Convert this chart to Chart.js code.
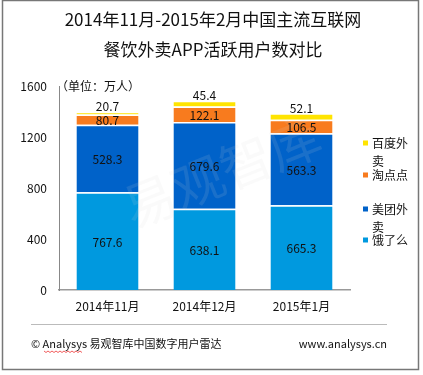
<!DOCTYPE html>
<html>
<head>
<meta charset="utf-8">
<script src="https://cdn.jsdelivr.net/npm/chart.js@4/dist/chart.umd.min.js"></script>
<style>
  html, body { margin: 0; padding: 0; background: #fff; }
  #wrap { width: 423px; height: 375px; position: relative; }
</style>
</head>
<body>
<div id="wrap"><canvas id="appChart" width="423" height="375"></canvas></div>
<script>
var FONT = '"Noto Sans CJK SC", "Noto Sans", sans-serif';

// data
var months = ['2014年11月', '2014年12月', '2015年1月'];
var seriesNames = ['饿了么', '美团外卖', '淘点点', '百度外卖'];
var eleme = [767.6, 638.1, 665.3];
var meituan = [528.3, 679.6, 563.3];
var taodiandian = [80.7, 122.1, 106.5];
var baidu = [20.7, 45.4, 52.1];
var yTicks = [0, 400, 800, 1200, 1600];
var colors = ['#0099df', '#0062c9', '#f87b1e', '#ffe400'];

var titleLines = ['2014年11月-2015年2月中国主流互联网', '餐饮外卖APP活跃用户数对比'];
var unitText = '（单位：万人）';

var frame = {
    id: 'frame',
    beforeDraw: function (chart) {
        var c = chart.ctx;
        c.save();
        c.fillStyle = '#fff';
        c.fillRect(0, 0, chart.width, chart.height);
        c.strokeStyle = '#777';
        c.lineWidth = 1.5;
        c.strokeRect(2.5, 0.5, 416, 369);
        c.fillStyle = '#111';
        c.textAlign = 'center';
        c.textBaseline = 'middle';
        c.font = '17px ' + FONT;
        c.fillText(titleLines[0], 213, 20);
        c.fillText(titleLines[1], 213, 50);
        c.font = '12px ' + FONT;
        c.textAlign = 'left';
        c.fillText(unitText, 56, 86);
        // footer
        c.strokeStyle = '#bbb';
        c.lineWidth = 1;
        c.beginPath();
        c.moveTo(31, 324.5);
        c.lineTo(387, 324.5);
        c.stroke();
        c.font = '11px ' + FONT;
        c.fillStyle = '#111';
        c.fillText('© Analysys 易观智库中国数字用户雷达', 31, 344);
        c.textAlign = 'right';
        c.fillText('www.analysys.cn', 387, 344);
        // spell-check squiggle under "Analysys"
        c.strokeStyle = '#e33';
        c.lineWidth = 0.8;
        c.beginPath();
        for (var x = 44; x <= 83; x += 2) {
            var yy = (x / 2) % 2 === 0 ? 351 : 352.5;
            if (x === 44) c.moveTo(x, yy); else c.lineTo(x, yy);
        }
        c.stroke();
        c.restore();
    },
    afterDatasetsDraw: function (chart) {
        var c = chart.ctx;
        // watermark
        c.save();
        c.translate(222, 172);
        c.rotate(-0.38);
        c.font = '52px ' + FONT;
        c.fillStyle = 'rgba(210,210,210,0.12)';
        c.textAlign = 'center';
        c.textBaseline = 'middle';
        c.fillText('易观智库', 0, 0);
        c.restore();

        // value labels
        c.save();
        c.font = '12px ' + FONT;
        c.fillStyle = '#111';
        c.textAlign = 'center';
        chart.data.datasets.forEach(function (ds, i) {
            var meta = chart.getDatasetMeta(i);
            meta.data.forEach(function (bar, j) {
                var txt = ds.data[j].toFixed(1);
                if (i === chart.data.datasets.length - 1) {
                    c.textBaseline = 'bottom';
                    c.fillText(txt, bar.x, bar.y + 1);
                } else {
                    c.textBaseline = 'middle';
                    c.fillText(txt, bar.x, (bar.y + bar.base) / 2 + 1);
                }
            });
        });
        c.restore();

        // legend on the right, wrapped to 3 characters, last series on top
        c.save();
        c.font = '12px ' + FONT;
        c.fillStyle = '#111';
        c.textAlign = 'left';
        c.textBaseline = 'middle';
        var n = chart.data.datasets.length;
        var ys = [143, 175, 209, 240];
        for (var k = 0; k < n; k++) {
            var ds = chart.data.datasets[n - 1 - k];
            var y = ys[k];
            c.fillStyle = ds.backgroundColor;
            c.fillRect(363, y - 2.5, 5, 5);
            c.fillStyle = '#111';
            var label = ds.label;
            c.fillText(label.slice(0, 3), 372, y);
            if (label.length > 3) c.fillText(label.slice(3), 372, y + 18);
        }
        c.restore();
    }
};

var datasets = [eleme, meituan, taodiandian, baidu].map(function (vals, i) {
    return {
        label: seriesNames[i],
        data: vals,
        backgroundColor: colors[i],
        borderColor: '#ffffff',
        borderWidth: { top: 1.5, bottom: 0, left: 0, right: 0 },
        borderSkipped: false,
        categoryPercentage: 0.64,
        barPercentage: 1
    };
});

new Chart(document.getElementById('appChart').getContext('2d'), {
    type: 'bar',
    data: { labels: months, datasets: datasets },
    options: {
        responsive: false,
        animation: false,
        layout: { padding: { top: 86, bottom: 55, left: 0, right: 73 } },
        plugins: {
            legend: { display: false },
            title: { display: false },
            tooltip: { enabled: false }
        },
        scales: {
            x: {
                stacked: true,
                grid: { display: false, drawTicks: false },
                border: { display: true, color: '#999', width: 1.5 },
                ticks: { color: '#111', font: { size: 12, family: FONT }, padding: 9, maxRotation: 0 },
                afterFit: function (s) { s.height = 30; }
            },
            y: {
                stacked: true,
                min: 0,
                max: 1600,
                afterBuildTicks: function (s) { s.ticks = yTicks.map(function (v) { return { value: v }; }); },
                grid: { display: false, drawTicks: false },
                border: { display: true, color: '#888', width: 1 },
                ticks: {
                    color: '#111',
                    font: { size: 12, family: FONT },
                    padding: 12,
                    callback: function (v) { return String(v); }
                },
                afterFit: function (s) { s.width = 59; }
            }
        }
    },
    plugins: [frame]
});
</script>
</body>
</html>
